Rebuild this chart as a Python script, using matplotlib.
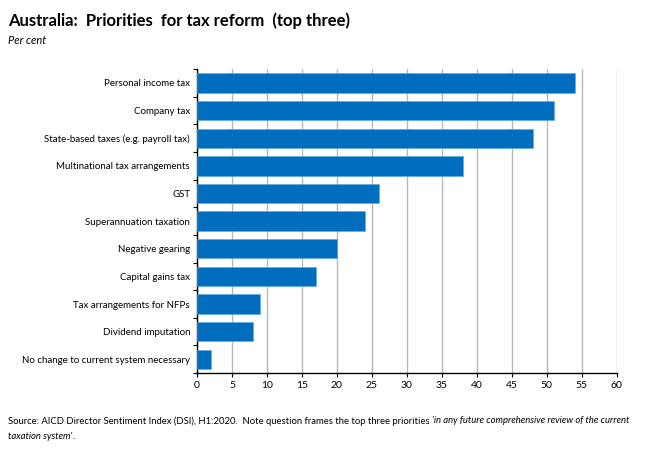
import numpy as np
import matplotlib
matplotlib.use("Agg")
import matplotlib.pyplot as plt

plt.rcParams['font.family'] = ['Lato', 'DejaVu Sans']

categories = ['Personal income tax', 'Company tax', 'State-based taxes (e.g. payroll tax)',
              'Multinational tax arrangements', 'GST', 'Superannuation taxation',
              'Negative gearing', 'Capital gains tax', 'Tax arrangements for NFPs',
              'Dividend imputation', 'No change to current system necessary']
values = [54, 51, 48, 38, 26, 24, 20, 17, 9, 8, 2]
xticks = list(range(0, 65, 5))

fig = plt.figure(figsize=(6.5, 4.55), dpi=100)
ax = fig.add_axes([0.303, 0.180, 0.646, 0.668])

y = np.arange(len(categories))
ax.barh(y, values, height=0.7, color='#006dbf', edgecolor='#5aa9e6', linewidth=0.4, zorder=3)
ax.set_ylim(len(categories) - 0.5, -0.5)
ax.set_xlim(0, 60)
ax.set_xticks(xticks)
ax.set_xticklabels([str(t) for t in xticks], fontsize=7.5)
ax.set_yticks(y)
ax.set_yticklabels(categories, fontsize=7)
ax.tick_params(axis='y', which='major', length=0, pad=5)
ax.set_yticks(np.arange(-0.5, len(categories), 1), minor=True)
ax.tick_params(axis='y', which='minor', length=3, width=0.8, direction='out')
ax.tick_params(axis='x', length=3, width=0.8, direction='out', pad=3)

ax.grid(axis='x', color='#b8b8b8', linewidth=1.0, zorder=0)
for s in ['top', 'right']:
    ax.spines[s].set_visible(False)
ax.spines['left'].set_linewidth(1.0)
ax.spines['bottom'].set_linewidth(1.0)

fig.text(0.012, 0.955, 'Australia:  Priorities  for tax reform  (top three)', fontsize=12,
         fontweight='bold', va='center')
fig.text(0.012, 0.912, 'Per cent', fontsize=8, style='italic', va='center')

renderer = fig.canvas.get_renderer()
src = fig.text(0.012, 0.075, 'Source: AICD Director Sentiment Index (DSI), H1:2020.  Note question frames the top three priorities ',
               fontsize=6.8, va='center')
bb = src.get_window_extent(renderer=renderer)
fig.text(bb.x1 / fig.bbox.width, 0.075, "'in any future comprehensive review of the current",
         fontsize=6.8, style='italic', va='center')
src2 = fig.text(0.012, 0.040, "taxation system'", fontsize=6.8, style='italic', va='center')
bb2 = src2.get_window_extent(renderer=renderer)
fig.text(bb2.x1 / fig.bbox.width, 0.040, ".", fontsize=6.8, va='center')

fig.savefig('out.png', dpi=100)
